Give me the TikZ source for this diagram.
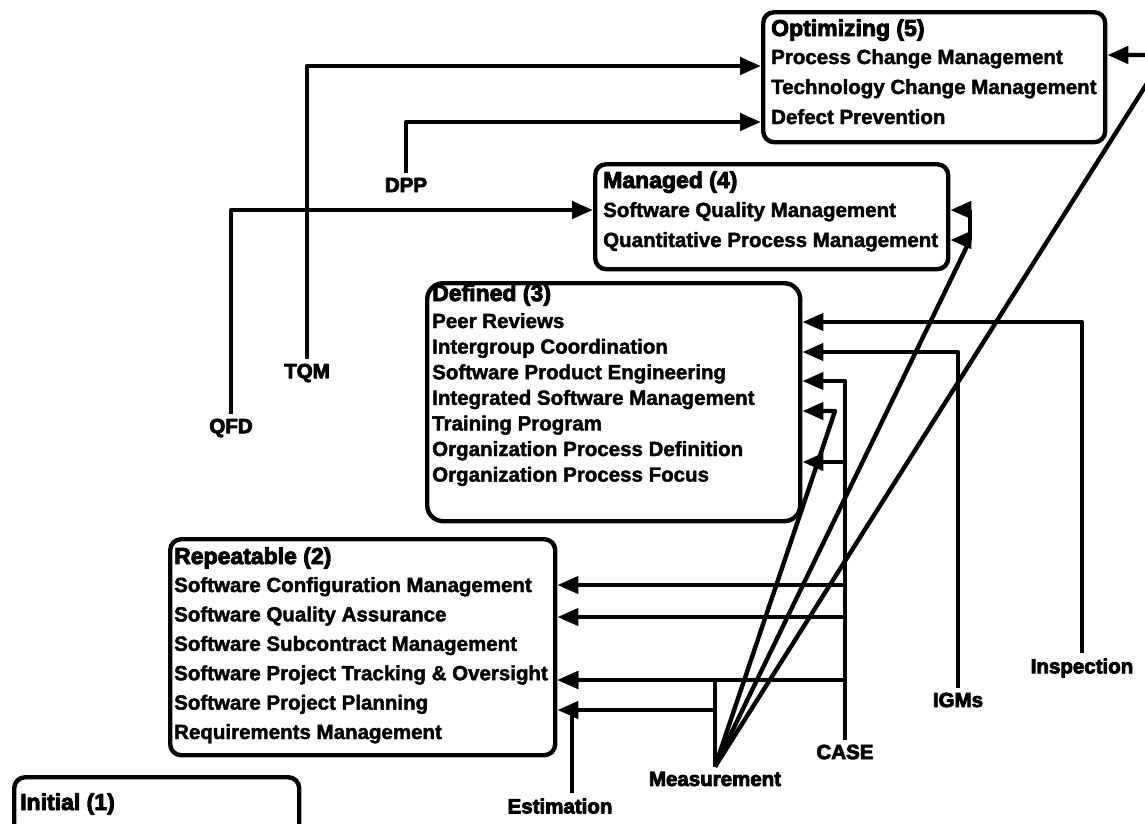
\documentclass[tikz,border=0pt]{standalone}
\usepackage{fontspec}
\setmainfont{Liberation Sans}[BoldFeatures={FakeBold=2}]
\newfontfamily\heavyfont{Liberation Sans}[BoldFeatures={FakeBold=4}]
\usetikzlibrary{arrows.meta}

\begin{document}
\begin{tikzpicture}[x=1pt, y=-1pt,
  every path/.style={line width=4.4pt},
  line join=round,
  box/.style={draw, line width=4.4pt, rounded corners=11pt, inner sep=0pt, anchor=north west},
  ttl/.style={font=\heavyfont\bfseries\fontsize{23}{23}\selectfont, anchor=base west, inner sep=0pt},
  itm/.style={font=\bfseries\fontsize{20.5}{20.5}\selectfont, anchor=base west, inner sep=0pt},
  lbl/.style={font=\heavyfont\bfseries\fontsize{20.5}{20.5}\selectfont, inner sep=3pt},
  arr/.style={-{Triangle[length=21pt,width=17pt]}},
]
\useasboundingbox (0,0) rectangle (1145,823);

% ---- maturity level boxes ----
\node[box, minimum width=342, minimum height=130] (opt) at (761,10) {};
\node[box, minimum width=353, minimum height=105] (mgd) at (593,162) {};
\node[box, rounded corners=16pt, minimum width=373, minimum height=238] (dfn) at (425,281) {};
\node[box, minimum width=385, minimum height=216] (rep) at (168,537) {};
\node[box, minimum width=285, minimum height=100] (ini) at (12,775) {};

% ---- box contents ----
\node[ttl] (optT) at (769,36) {Optimizing (5)};
\foreach \t [count=\i from 0] in {Process Change Management, Technology Change Management, Defect Prevention}
  \node[itm] (opt\i) at (769,{64+30*\i}) {\t};

\node[ttl] (mgdT) at (601,188) {Managed (4)};
\foreach \t [count=\i from 0] in {Software Quality Management, Quantitative Process Management}
  \node[itm] (mgd\i) at (601,{217+30*\i}) {\t};

\node[ttl] (dfnT) at (430,301) {Defined (3)};
\foreach \t [count=\i from 0] in {Peer Reviews, Intergroup Coordination, Software Product Engineering,
    Integrated Software Management, Training Program, Organization Process Definition, Organization Process Focus}
  \node[itm] (dfn\i) at (430,{328+25.6*\i}) {\t};

\node[ttl] (repT) at (172,564) {Repeatable (2)};
\foreach \t [count=\i from 0] in {Software Configuration Management, Software Quality Assurance,
    Software Subcontract Management, Software Project Tracking \& Oversight, Software Project Planning,
    Requirements Management}
  \node[itm] (rep\i) at (172,{592+29.4*\i}) {\t};

\node[ttl] (iniT) at (18,810) {Initial (1)};

% ---- practice labels ----
\node[lbl] (tqm)  at (307,373) {TQM};
\node[lbl] (qfd)  at (231,428) {QFD};
\node[lbl] (dpp)  at (406,185) {DPP};
\node[lbl] (meas) at (715,779) {Measurement};
\node[lbl] (case) at (845,752) {CASE};
\node[lbl] (igms) at (958,700) {IGMs};
\node[lbl] (insp) at (1082,668) {Inspection};
\node[lbl] (est)  at (560,806) {Estimation};

% ---- connectors into Optimizing and Managed ----
\draw[arr] (tqm.north) |- (opt.west |- 0,66);
\draw[arr] (dpp.north) |- (opt.west |- 0,122);
\draw[arr] (qfd.north) |- (mgd.west |- 0,210);

% ---- connectors into Defined ----
\draw[arr] (insp.north) |- (dfn.east |- 0,322);
\draw[arr] (igms.north) |- (dfn.east |- 0,352);
\draw[arr] (case.north) |- (dfn.east |- 0,381);
\coordinate (caseA) at (case.north |- 0,462);
\draw[arr] (caseA) -- (dfn.east |- caseA);

% ---- CASE into Repeatable ----
\foreach \yy in {585,617,680}
  \draw[arr] (case.north |- 0,\yy) -- (rep.east |- 0,\yy);

% ---- Measurement fan ----
\coordinate (apex) at (meas.north);
\draw[arr] (apex) |- (rep.east |- 0,680);
\draw[arr] (apex |- 0,710) -- (rep.east |- 0,710);
\coordinate (m1) at (835,411);
\draw[arr] (apex) -- (m1) -- (dfn.east |- m1);
\coordinate (m2) at (970,240);
\draw[arr] (apex) -- (m2) -- (mgd.east |- m2);
\draw[arr] (m2) |- (mgd.east |- 0,210);
\coordinate (m3) at (1165,55);
\draw[arr] (apex) -- (m3) -- (opt.east |- m3);

% ---- Estimation ----
\draw (est.north -| 572,0) -- (572,710);
\end{tikzpicture}
\end{document}
